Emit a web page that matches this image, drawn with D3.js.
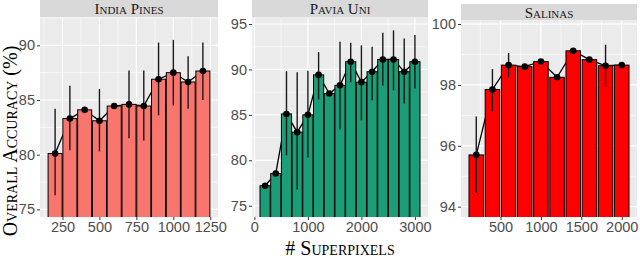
<!DOCTYPE html>
<html>
<head>
<meta charset="utf-8">
<script src="https://cdn.jsdelivr.net/npm/d3@7"></script>
<style>
  body { margin: 0; background: #fff; }
  svg { display: block; }
</style>
</head>
<body>
<div id="chart"></div>
<script>
// values
var indiaX = [200, 300, 400, 500, 600, 700, 800, 900, 1000, 1100, 1200];
var indiaMean = [80.1, 83.3, 84.1, 83.1, 84.45, 84.6, 84.45, 86.9, 87.5, 86.65, 87.65];
var indiaLow = [76.3, 80.4, 83.95, 80.3, 84.3, 81.5, 81.3, 83.6, 84.5, 84.2, 85.0];
var indiaHigh = [84.2, 86.3, 84.25, 86.0, 84.6, 87.7, 87.7, 90.25, 90.5, 89.0, 90.25];

var paviaX = [200, 400, 600, 800, 1000, 1200, 1400, 1600, 1800, 2000, 2200, 2400, 2600, 2800, 3000];
var paviaMean = [77.2, 78.55, 85.1, 83.1, 85.0, 89.4, 87.35, 88.25, 90.85, 88.6, 89.75, 91.1, 91.1, 89.75, 90.85];
var paviaLow = [77.0, 78.35, 80.55, 76.8, 80.3, 86.7, 87.15, 83.4, 88.6, 84.4, 86.6, 88.2, 87.7, 86.25, 87.9];
var paviaHigh = [77.4, 78.75, 89.8, 89.7, 89.85, 91.9, 87.55, 93.05, 92.95, 92.65, 92.5, 94.05, 94.3, 93.4, 93.8];

var salinasX = [200, 400, 600, 800, 1000, 1200, 1400, 1600, 1800, 2000];
var salinasMean = [95.7, 97.85, 98.65, 98.6, 98.77, 98.25, 99.12, 98.83, 98.63, 98.65];
var salinasLow = [94.45, 97.13, 98.25, 98.55, 98.72, 98.2, 99.07, 98.78, 97.92, 98.6];
var salinasHigh = [96.96, 98.52, 99.05, 98.65, 98.82, 98.3, 99.17, 98.88, 99.32, 98.7];

var indiaXTicks = [250, 500, 750, 1000, 1250];
var indiaYTicks = [75, 80, 85, 90];
var paviaXTicks = [0, 1000, 2000, 3000];
var paviaYTicks = [75, 80, 85, 90, 95];
var salinasXTicks = [500, 1000, 1500, 2000];
var salinasYTicks = [94, 96, 98, 100];

var W = 640, H = 259;

var svg = d3.select("#chart")
  .append("svg")
  .attr("width", W)
  .attr("height", H);

var panels = [
  { title: "India Pines", xs: indiaX, mean: indiaMean, lo: indiaLow, hi: indiaHigh,
    xTicks: indiaXTicks, yTicks: indiaYTicks, step: 100, widthFrac: 0.95,
    left: 40, right: 218, top: 18, bottom: 217, stripTop: 0,
    yDomain: [74.3, 92.5], fill: "#F8766D" },
  { title: "Pavia Uni", xs: paviaX, mean: paviaMean, lo: paviaLow, hi: paviaHigh,
    xTicks: paviaXTicks, yTicks: paviaYTicks, step: 200, widthFrac: 0.95,
    left: 252, right: 428, top: 18, bottom: 217, stripTop: 0,
    yDomain: [73.76, 95.66], fill: "#1B9E77" },
  { title: "Salinas", xs: salinasX, mean: salinasMean, lo: salinasLow, hi: salinasHigh,
    xTicks: salinasXTicks, yTicks: salinasYTicks, step: 200, widthFrac: 0.9,
    left: 461, right: 637, top: 21, bottom: 217, stripTop: 4,
    yDomain: [93.66, 100.1], fill: "#FF0000" }
];

function minorBetween(ticks, domain) {
  var d = ticks[1] - ticks[0];
  var out = [];
  for (var t = ticks[0] - d / 2; t <= domain[1]; t += d) {
    if (t >= domain[0] && ticks.indexOf(t) < 0) out.push(t);
  }
  return out;
}

panels.forEach(function(p, k) {
  var bw = p.step * p.widthFrac;
  var lo = d3.min(p.xs) - bw / 2, hi = d3.max(p.xs) + bw / 2;
  var pad = (hi - lo) * 0.05;
  var xDomain = [lo - pad, hi + pad];

  var x = d3.scaleLinear().domain(xDomain).range([p.left, p.right]);
  var y = d3.scaleLinear().domain(p.yDomain).range([p.bottom, p.top]);

  var g = svg.append("g");

  // strip
  g.append("rect")
    .attr("x", p.left).attr("y", p.stripTop)
    .attr("width", p.right - p.left).attr("height", p.top - p.stripTop - 0.5)
    .attr("fill", "#D9D9D9");
  g.append("text")
    .attr("x", (p.left + p.right) / 2)
    .attr("y", p.stripTop + (p.top - p.stripTop) / 2 + 5)
    .attr("text-anchor", "middle")
    .style("font-family", "'Liberation Serif', 'Times New Roman', serif")
    .style("font-variant", "small-caps")
    .style("font-size", "15px")
    .attr("fill", "#1A1A1A")
    .text(p.title);

  // panel background
  g.append("rect")
    .attr("x", p.left).attr("y", p.top)
    .attr("width", p.right - p.left).attr("height", p.bottom - p.top)
    .attr("fill", "#EBEBEB");

  var yMinor = minorBetween(p.yTicks, p.yDomain);
  var xMinor = minorBetween(p.xTicks, xDomain);

  g.selectAll(".ymin").data(yMinor).enter().append("line")
    .attr("x1", p.left).attr("x2", p.right)
    .attr("y1", function(d) { return y(d); }).attr("y2", function(d) { return y(d); })
    .attr("stroke", "#fff").attr("stroke-width", 0.6);
  g.selectAll(".xmin").data(xMinor).enter().append("line")
    .attr("y1", p.top).attr("y2", p.bottom)
    .attr("x1", function(d) { return x(d); }).attr("x2", function(d) { return x(d); })
    .attr("stroke", "#fff").attr("stroke-width", 0.6);
  g.selectAll(".ymaj").data(p.yTicks).enter().append("line")
    .attr("x1", p.left).attr("x2", p.right)
    .attr("y1", function(d) { return y(d); }).attr("y2", function(d) { return y(d); })
    .attr("stroke", "#fff").attr("stroke-width", 1.2);
  g.selectAll(".xmaj").data(p.xTicks).enter().append("line")
    .attr("y1", p.top).attr("y2", p.bottom)
    .attr("x1", function(d) { return x(d); }).attr("x2", function(d) { return x(d); })
    .attr("stroke", "#fff").attr("stroke-width", 1.2);

  var clipId = "clip" + k;
  svg.append("clipPath").attr("id", clipId)
    .append("rect")
    .attr("x", p.left).attr("y", p.top)
    .attr("width", p.right - p.left).attr("height", p.bottom - p.top);

  var plot = g.append("g").attr("clip-path", "url(#" + clipId + ")");

  var rows = p.xs.map(function(v, i) {
    return { x: v, m: p.mean[i], lo: p.lo[i], hi: p.hi[i] };
  });

  // connecting line sits behind the bars
  var line = d3.line()
    .x(function(d) { return x(d.x); })
    .y(function(d) { return y(d.m); });
  plot.append("path")
    .datum(rows)
    .attr("d", line)
    .attr("fill", "none")
    .attr("stroke", "#000")
    .attr("stroke-width", 1.3);

  plot.selectAll(".bar").data(rows).enter().append("rect")
    .attr("x", function(d) { return x(d.x - bw / 2); })
    .attr("width", function(d) { return x(d.x + bw / 2) - x(d.x - bw / 2); })
    .attr("y", function(d) { return y(d.m); })
    .attr("height", function(d) { return p.bottom + 5 - y(d.m); })
    .attr("fill", p.fill)
    .attr("stroke", "#000")
    .attr("stroke-width", 1);

  plot.selectAll(".err").data(rows).enter().append("line")
    .attr("x1", function(d) { return x(d.x); }).attr("x2", function(d) { return x(d.x); })
    .attr("y1", function(d) { return y(d.lo); }).attr("y2", function(d) { return y(d.hi); })
    .attr("stroke", "#1a1a1a")
    .attr("stroke-width", 1.4);

  plot.selectAll(".pt").data(rows).enter().append("circle")
    .attr("cx", function(d) { return x(d.x); })
    .attr("cy", function(d) { return y(d.m); })
    .attr("r", 3.3)
    .attr("fill", "#000");

  // axes
  var yAxis = g.append("g")
    .attr("transform", "translate(" + p.left + ",0)")
    .call(d3.axisLeft(y).tickValues(p.yTicks).tickFormat(d3.format("d")).tickSize(3).tickPadding(2));
  var xAxis = g.append("g")
    .attr("transform", "translate(0," + p.bottom + ")")
    .call(d3.axisBottom(x).tickValues(p.xTicks).tickFormat(d3.format("d")).tickSize(3).tickPadding(2));
  [xAxis, yAxis].forEach(function(a) {
    a.select(".domain").remove();
    a.selectAll("line").attr("stroke", "#333");
    a.selectAll("text")
      .attr("fill", "#4D4D4D")
      .style("font-family", "'Liberation Sans', Arial, sans-serif")
      .style("font-size", "14.5px");
  });
});

svg.append("text")
  .attr("transform", "translate(17,141) rotate(-90)")
  .attr("text-anchor", "middle")
  .style("font-family", "'Liberation Serif', 'Times New Roman', serif")
  .style("font-variant", "small-caps")
  .style("font-size", "20px")
  .attr("fill", "#000")
  .text("Overall Accuracy (%)");

svg.append("text")
  .attr("x", 340)
  .attr("y", 255)
  .attr("text-anchor", "middle")
  .style("font-family", "'Liberation Serif', 'Times New Roman', serif")
  .style("font-variant", "small-caps")
  .style("font-size", "20px")
  .attr("fill", "#000")
  .text("# Superpixels");
</script>
</body>
</html>
